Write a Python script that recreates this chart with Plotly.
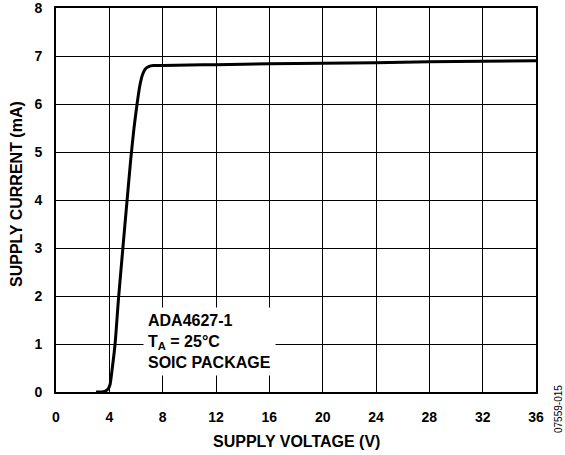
import plotly.graph_objects as go

# Supply current vs supply voltage
supply_voltage_v = [3.0, 3.4, 3.7, 3.9, 4.05, 4.2, 4.43, 4.68, 5.0, 5.3, 5.6, 5.85, 6.08, 6.3, 6.5, 6.7, 6.95, 7.3, 8, 10, 12, 16, 20, 24, 28, 32, 36]
supply_current_ma = [0.0, 0.0, 0.02, 0.06, 0.15, 0.45, 1.0, 1.92, 2.95, 3.9, 4.83, 5.5, 6.0, 6.4, 6.62, 6.73, 6.78, 6.8, 6.8, 6.81, 6.82, 6.84, 6.85, 6.86, 6.88, 6.89, 6.9]

x_ticks = [0, 4, 8, 12, 16, 20, 24, 28, 32, 36]
y_ticks = [0, 1, 2, 3, 4, 5, 6, 7, 8]

FONT = "Liberation Sans, Arial, sans-serif"
W, H = 565, 455
L, R, T, B = 56, 29, 8, 63
PW, PH = W - L - R, H - T - B


def px_x(px):
    return (px - L) / PW


def px_y(py):
    return 1 - (py - T) / PH


fig = go.Figure()
fig.add_trace(go.Scatter(
    x=supply_voltage_v, y=supply_current_ma, mode="lines",
    line=dict(color="black", width=3, shape="spline", smoothing=0.6),
    showlegend=False, hoverinfo="skip",
))

fig.update_layout(
    width=W, height=H,
    margin=dict(l=L, r=R, t=T, b=B),
    paper_bgcolor="white", plot_bgcolor="white",
    font=dict(family=FONT, size=14, color="black"),
    xaxis=dict(
        range=[0, 36], tickvals=x_ticks, ticktext=[f"<b>{t}</b>" for t in x_ticks],
        showgrid=True, gridcolor="black", gridwidth=1,
        showline=True, linecolor="black", linewidth=2, mirror=True,
        zeroline=False, ticks="outside", ticklen=11, tickcolor="rgba(0,0,0,0)",
        tickfont=dict(size=14), automargin=False, ticklabeloverflow="allow",
    ),
    yaxis=dict(
        range=[0, 8], tickvals=y_ticks, ticktext=[f"<b>{t}</b>" for t in y_ticks],
        showgrid=True, gridcolor="black", gridwidth=1,
        showline=True, linecolor="black", linewidth=2, mirror=True,
        zeroline=False, ticks="outside", ticklen=9, tickcolor="rgba(0,0,0,0)",
        tickfont=dict(size=14), automargin=False, ticklabeloverflow="allow",
    ),
    annotations=[
        dict(
            x=6.5, y=1.05, xref="x", yref="y", xanchor="left", yanchor="middle",
            text="<b>ADA4627-1</b><br><b>T<sub>A</sub> = 25°C</b><br><b>SOIC PACKAGE</b>",
            align="left", showarrow=False, bgcolor="white", borderpad=4,
            font=dict(family=FONT, size=16, color="black"),
        ),
        dict(
            x=px_x(296.5), y=px_y(441), xref="paper", yref="paper",
            text="<b>SUPPLY VOLTAGE (V)</b>", showarrow=False,
            xanchor="center", yanchor="middle",
            font=dict(family=FONT, size=16, color="black"),
        ),
        dict(
            x=px_x(16), y=px_y(194), xref="paper", yref="paper",
            text="<b>SUPPLY CURRENT (mA)</b>", showarrow=False, textangle=-90,
            xanchor="center", yanchor="middle",
            font=dict(family=FONT, size=16, color="black"),
        ),
        dict(
            x=px_x(558), y=px_y(409), xref="paper", yref="paper", text="07559-015",
            showarrow=False, textangle=-90, xanchor="center", yanchor="middle",
            font=dict(family=FONT, size=10, color="black"),
        ),
    ],
)

fig.write_html("out.html", config={"displayModeBar": False},
               post_script="document.body.style.margin='0';")
